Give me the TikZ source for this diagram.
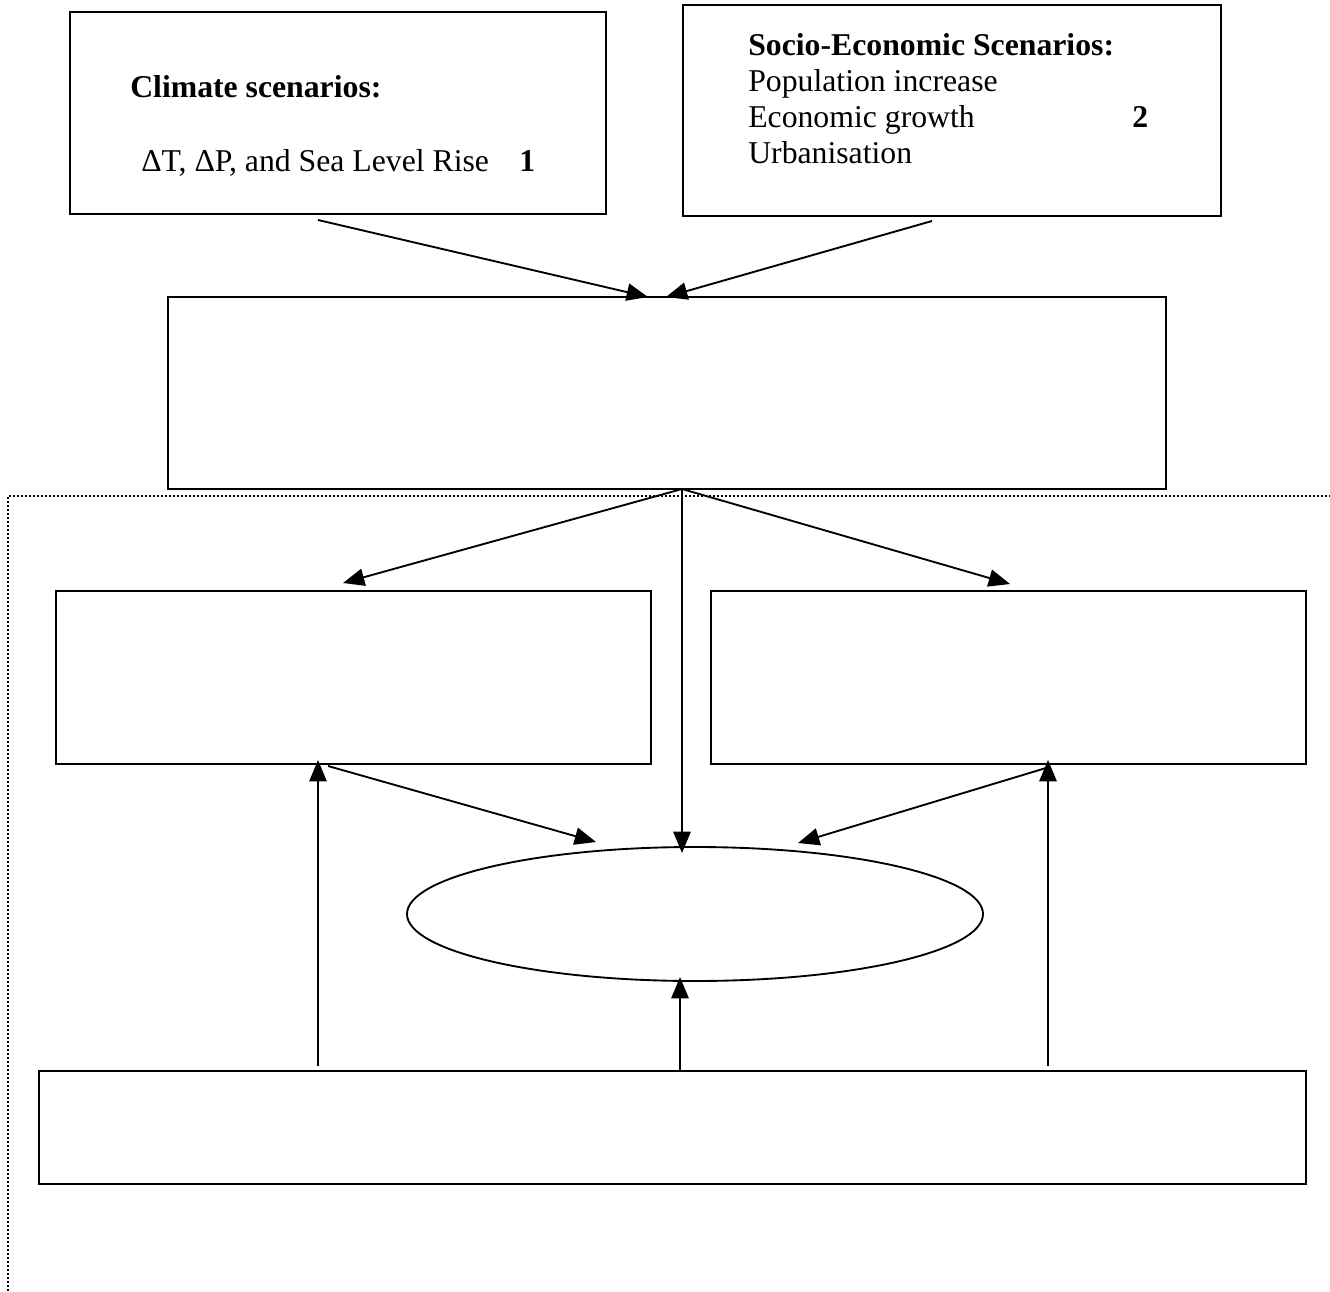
\documentclass[tikz,border=0pt]{standalone}
\usepackage{fontspec}
\setmainfont{Liberation Serif}
\usetikzlibrary{arrows.meta,shapes.geometric}
\begin{document}
\begin{tikzpicture}[x=0.75pt,y=-0.75pt,
  box/.style={draw,line width=1.4pt,inner sep=0pt},
  conn/.style={line width=1.4pt,-{Triangle[length=16pt,width=13pt]}},
  txt/.style={anchor=base west,inner sep=0pt,font=\fontsize{23.8}{27}\selectfont},
  dotline/.style={line width=1.4pt,dash pattern=on 1.5pt off 1.5pt}]
\useasboundingbox (0,0) rectangle (1330,1291);
% boxes
\node[box,minimum width=402pt,minimum height=151.5pt] (clim) at (338,113) {};
\node[box,minimum width=403.5pt,minimum height=158.25pt] (socio) at (952,110.5) {};
\node[box,minimum width=748.5pt,minimum height=144pt] (mid) at (667,393) {};
\node[box,minimum width=446.25pt,minimum height=129.75pt] (left) at (353.5,677.5) {};
\node[box,minimum width=446.25pt,minimum height=129.75pt] (right) at (1008.5,677.5) {};
\node[box,ellipse,minimum width=432pt,minimum height=100.5pt] (ell) at (695,914) {};
\node[box,minimum width=950.25pt,minimum height=84.75pt] (bot) at (672.5,1127.5) {};
% texts
\node[txt] (t1) at (130,98) {\bfseries Climate scenarios:};
\node[txt] (t2) at (141,172) {ΔT, ΔP, and Sea Level Rise};
\node[txt] (t3) at (519,172) {\bfseries 1};
\node[txt] (t4) at (748,56) {\bfseries Socio-Economic Scenarios:};
\node[txt] (t5) at (748,92) {Population increase};
\node[txt] (t6) at (748,128) {Economic growth};
\node[txt] (t7) at (1132,128) {\bfseries 2};
\node[txt] (t8) at (748,164) {Urbanisation};
% dotted frame
\coordinate (d1) at (8,1291);
\coordinate (d2) at (8,496);
\coordinate (d3) at (1330,496);
\draw[dotline] (d1) -- (d2) -- (d3);
% connector end points
\coordinate (a1s) at (318,220); \coordinate (a1e) at (648,297);
\coordinate (a2s) at (932,221); \coordinate (a2e) at (666,297);
\coordinate (mo) at (682,489);
\coordinate (a3e) at (343,583);
\coordinate (a4e) at (682,853);
\coordinate (a5e) at (1010,584);
\coordinate (a6s) at (318,1066); \coordinate (a6e) at (318,760);
\coordinate (a7s) at (328,766); \coordinate (a7e) at (596,842);
\coordinate (a8s) at (680,1071); \coordinate (a8e) at (680,977);
\coordinate (a9s) at (1048,1066); \coordinate (a9e) at (1048,760);
\coordinate (a10s) at (1046,768); \coordinate (a10e) at (798,843);
\draw[conn] (a1s) -- (a1e);
\draw[conn] (a2s) -- (a2e);
\draw[conn] (mo) -- (a3e);
\draw[conn] (mo) -- (a4e);
\draw[conn] (mo) -- (a5e);
\draw[conn] (a6s) -- (a6e);
\draw[conn] (a7s) -- (a7e);
\draw[conn] (a8s) -- (a8e);
\draw[conn] (a9s) -- (a9e);
\draw[conn] (a10s) -- (a10e);
\end{tikzpicture}
\end{document}
